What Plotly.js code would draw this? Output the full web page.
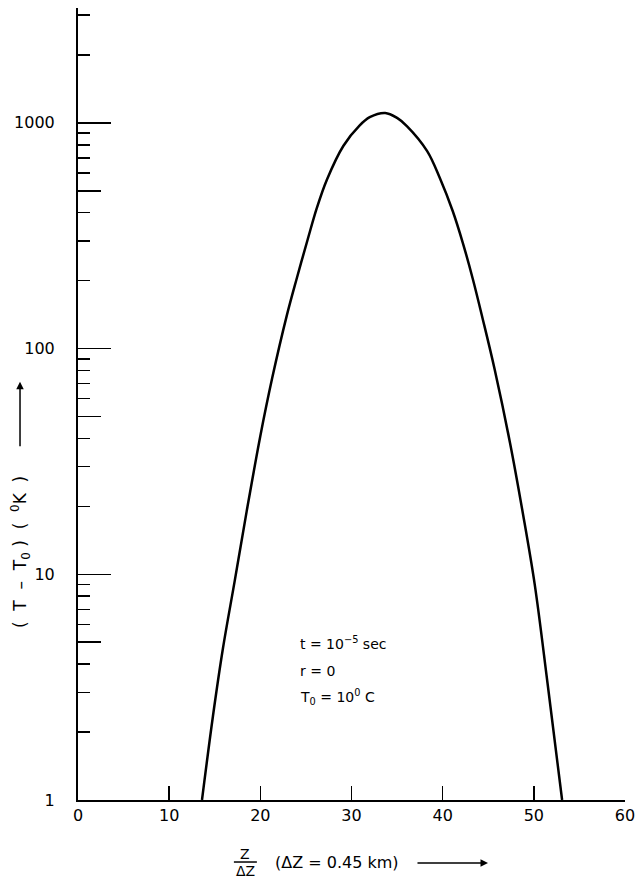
<!DOCTYPE html>
<html>
<head>
<meta charset="utf-8">
<script src="https://cdn.plot.ly/plotly-3.0.1.min.js"></script>
<style>html,body{margin:0;padding:0;background:#fff;}#chart{width:641px;height:878px;}</style>
</head>
<body>
<div id="chart"></div>
<script>
// Z / ΔZ positions along the curve
const zValues = [13.6, 14.8, 15.9, 17.2, 18.5, 20.0, 21.3, 22.9, 24.0, 25.2, 26.2, 27.3, 29.1, 30.9, 32.0, 33.7, 35.0, 36.1, 38.3, 39.7, 41.1, 42.2, 43.3, 44.4, 45.7, 47.4, 48.8, 50.1, 51.5, 53.1];
// T - T0 (K)
const tempValues = [1, 2.35, 4.7, 9.4, 19, 41, 74, 140, 205, 305, 420, 560, 790, 975, 1060, 1107, 1052, 966, 750, 569, 407, 295, 204, 135, 81, 38, 18.6, 9.0, 3.3, 1];

const xTickVals = [0, 10, 20, 30, 40, 50, 60];
const yMajorTicks = [1, 10, 100, 1000];
const yMajorText = ['1', '10', '100', '1000'];
const yMediumTicks = [5, 50, 500];
const yMinorTicks = [2, 3, 4, 6, 7, 8, 9, 20, 30, 40, 60, 70, 80, 90, 200, 300, 400, 600, 700, 800, 900, 2000, 3000];

const FONT = 'DejaVu Sans, Liberation Sans, sans-serif';
const yRange = [0, 3.509];

const trace = {
  type: 'scatter', mode: 'lines',
  x: zValues, y: tempValues,
  line: {color: 'black', width: 2.5, shape: 'spline', smoothing: 1},
  hoverinfo: 'skip', showlegend: false
};
// same curve, invisible, on the overlay axis so that its medium ticks get drawn
const traceOverlay = {
  type: 'scatter', mode: 'lines', yaxis: 'y2',
  x: zValues, y: tempValues,
  line: {color: 'rgba(0,0,0,0)', width: 0},
  hoverinfo: 'skip', showlegend: false
};

const layout = {
  width: 641, height: 878,
  margin: {l: 78, r: 16, t: 8, b: 78},
  paper_bgcolor: 'white', plot_bgcolor: 'white',
  showlegend: false,
  xaxis: {
    range: [0, 60], tickmode: 'array', tickvals: xTickVals,
    ticks: 'inside', ticklen: 14, tickwidth: 1.5, tickcolor: 'black',
    showline: true, linecolor: 'black', linewidth: 2,
    showgrid: false, zeroline: false, mirror: false,
    tickfont: {family: FONT, size: 16, color: 'black'},
    ticklabelstandoff: 0
  },
  yaxis: {
    type: 'log', range: yRange,
    tickmode: 'array', tickvals: yMajorTicks, ticktext: yMajorText,
    ticks: 'inside', ticklen: 33, tickwidth: 1.5, tickcolor: 'black',
    minor: {tickmode: 'array', tickvals: yMinorTicks, ticks: 'inside', ticklen: 12, tickwidth: 1.5, tickcolor: 'black', showgrid: false},
    showline: true, linecolor: 'black', linewidth: 2,
    showgrid: false, zeroline: false, mirror: false,
    tickfont: {family: FONT, size: 16, color: 'black'},
    ticklabelstandoff: 18
  },
  yaxis2: {
    type: 'log', range: yRange, overlaying: 'y', anchor: 'x', side: 'left',
    tickmode: 'array', tickvals: yMediumTicks,
    ticks: 'inside', ticklen: 23, tickwidth: 1.5, tickcolor: 'black',
    showticklabels: false, showline: false, showgrid: false, zeroline: false
  },
  shapes: [
    {type: 'line', xref: 'paper', yref: 'paper', x0: 0.285, x1: 0.327, y0: -0.0783, y1: -0.0783,
     line: {color: 'black', width: 1.5}}
  ],
  annotations: [
    // x-axis title: fraction Z / ΔZ
    {xref: 'paper', yref: 'paper', x: 0.306, y: -0.0688, text: 'Z', showarrow: false,
     font: {family: FONT, size: 14, color: 'black'}, xanchor: 'center', yanchor: 'middle'},
    {xref: 'paper', yref: 'paper', x: 0.306, y: -0.0893, text: 'ΔZ', showarrow: false,
     font: {family: FONT, size: 14, color: 'black'}, xanchor: 'center', yanchor: 'middle'},
    {xref: 'paper', yref: 'paper', x: 0.356, y: -0.0795, text: '(ΔZ = 0.45 km)', showarrow: false,
     font: {family: FONT, size: 16, color: 'black'}, xanchor: 'left', yanchor: 'middle'},
    {xref: 'paper', yref: 'paper', x: 0.7495, y: -0.0795, ax: -72, ay: 0, text: '', showarrow: true,
     arrowhead: 2, arrowsize: 1, arrowwidth: 1.5, arrowcolor: 'black'},
    // y-axis title
    {xref: 'paper', yref: 'paper', x: -0.106, y: 0.313, text: '(  T  –  T<sub>0</sub> )  (  <sup>0</sup>K  )', showarrow: false,
     textangle: -90, font: {family: FONT, size: 17, color: 'black'}, xanchor: 'center', yanchor: 'middle'},
    {xref: 'paper', yref: 'paper', x: -0.106, y: 0.528, ax: 0, ay: 66, text: '', showarrow: true,
     arrowhead: 2, arrowsize: 1, arrowwidth: 1.5, arrowcolor: 'black'},
    // in-plot annotation
    {xref: 'paper', yref: 'paper', x: 0.402, y: 0.198, text: 't = 10<sup>−5</sup> sec', showarrow: false,
     font: {family: FONT, size: 14, color: 'black'}, xanchor: 'left', yanchor: 'middle'},
    {xref: 'paper', yref: 'paper', x: 0.402, y: 0.163, text: 'r = 0', showarrow: false,
     font: {family: FONT, size: 14, color: 'black'}, xanchor: 'left', yanchor: 'middle'},
    {xref: 'paper', yref: 'paper', x: 0.402, y: 0.130, text: 'T<sub>0</sub> = 10<sup>0</sup> C', showarrow: false,
     font: {family: FONT, size: 14, color: 'black'}, xanchor: 'left', yanchor: 'middle'}
  ]
};

Plotly.newPlot('chart', [trace, traceOverlay], layout, {staticPlot: true, displayModeBar: false});
</script>
</body>
</html>
